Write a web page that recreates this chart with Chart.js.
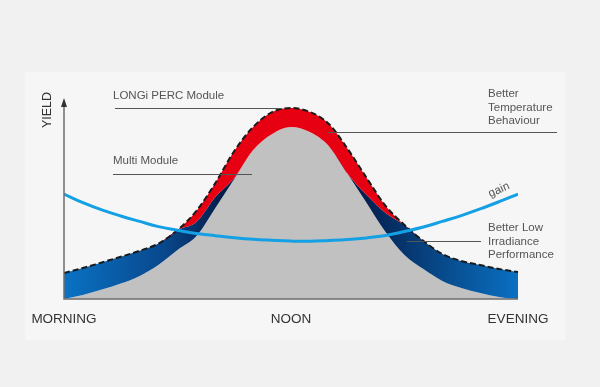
<!DOCTYPE html>
<html>
<head>
<meta charset="utf-8">
<script src="https://cdn.jsdelivr.net/npm/chart.js@4"></script>
<style>
  body { margin: 0; background: #f1f1f1; }
  #panel { position: absolute; left: 25px; top: 72px; width: 540px; height: 268px; background: #f6f6f6; }
  #yieldChart { position: absolute; left: 0; top: 0; }
</style>
</head>
<body>
<div id="panel"></div>
<canvas id="yieldChart" width="600" height="387"></canvas>
<script>
// time of day (hours), morning -> evening
const hours = [6, 6.5, 7, 7.5, 8, 8.5, 9, 9.5, 10, 10.5, 11, 11.5, 12, 12.5, 13, 13.5, 14, 14.5, 15, 15.5, 16, 16.5, 17, 17.5, 18];
// multi module yield (grey area)
const multiYield = [0, 2.0, 4.7, 7.7, 11.5, 17.1, 24.4, 31.3, 45.3, 59.7, 74.1, 82.1, 85.6, 83.1, 76.1, 62.2, 47.8, 33.3, 21.9, 14.9, 9.0, 5.5, 3.0, 1.0, 0];
// LONGi PERC module yield (dashed line)
const longiYield = [12.9, 15.4, 18.2, 21.0, 24.0, 27.6, 34.3, 43.8, 57.7, 73.6, 85.6, 93.0, 95.0, 93.0, 87.1, 74.6, 60.2, 46.3, 36.8, 28.9, 22.4, 18.9, 16.9, 14.9, 13.4];
// border between low irradiance gain (blue) and temperature gain (red)
const splitYield = [12.9, 15.4, 18.2, 21.0, 24.0, 27.6, 34.3, 38.3, 50.7, 60.2, 74.1, 82.1, 85.6, 83.1, 76.1, 62.2, 51.7, 42.8, 36.8, 28.9, 22.4, 18.9, 16.9, 14.9, 13.4];
// gain curve
const gainCurve = [52.2, 47.9, 44.3, 41.3, 38.6, 36.0, 34.2, 32.6, 31.5, 30.5, 29.7, 29.2, 28.8, 28.7, 29.1, 29.6, 30.4, 31.6, 33.6, 35.8, 38.6, 41.5, 44.8, 48.4, 52.2];
// axis labels
const timeTicks = [6, 12, 18];
const timeLabels = ['MORNING', 'NOON', 'EVENING'];

const pts = (ys) => hours.map((h, i) => ({ x: h, y: ys[i] }));

const FONT = "'Liberation Sans', Arial, sans-serif";

// blue band gradient, light at the edges, navy towards noon
const blueFill = (context) => {
    const area = context.chart.chartArea;
    if (!area) return '#0a5aa8';
    const g = context.chart.ctx.createLinearGradient(area.left, 0, area.right, 0);
    g.addColorStop(0, '#0a72c4');
    g.addColorStop(0.22, '#08488c');
    g.addColorStop(0.34, '#041f4e');
    g.addColorStop(0.66, '#041f4e');
    g.addColorStop(0.8, '#07427f');
    g.addColorStop(1, '#0a70c2');
    return g;
};

// axes, arrow and text labels
const decorations = {
    id: 'decorations',
    afterDraw(chart) {
        const ctx = chart.ctx;
        const a = chart.chartArea;
        const xs = chart.scales.x;
        ctx.save();

        // axes
        ctx.strokeStyle = '#6d6d6d';
        ctx.lineWidth = 1.5;
        ctx.beginPath();
        ctx.moveTo(a.left, a.top + 6);
        ctx.lineTo(a.left, a.bottom);
        ctx.lineTo(a.right, a.bottom);
        ctx.stroke();
        ctx.fillStyle = '#333';
        ctx.beginPath();
        ctx.moveTo(a.left, a.top);
        ctx.lineTo(a.left - 3, a.top + 9);
        ctx.lineTo(a.left + 3, a.top + 9);
        ctx.closePath();
        ctx.fill();

        // YIELD
        ctx.save();
        ctx.translate(48, 110);
        ctx.rotate(-Math.PI / 2);
        ctx.font = '12.5px ' + FONT;
        ctx.fillStyle = '#333';
        ctx.textAlign = 'center';
        ctx.textBaseline = 'middle';
        ctx.fillText('YIELD', 0, 0);
        ctx.restore();

        // time labels
        ctx.font = '13.5px ' + FONT;
        ctx.fillStyle = '#333';
        ctx.textAlign = 'center';
        ctx.textBaseline = 'middle';
        timeTicks.forEach((t, i) => {
            ctx.fillText(timeLabels[i], xs.getPixelForValue(t), 319);
        });

        // annotation texts
        ctx.font = '11.5px ' + FONT;
        ctx.fillStyle = '#555';
        ctx.textAlign = 'left';
        ctx.fillText('LONGi PERC Module', 113, 96);
        ctx.fillText('Multi Module', 113, 161);
        ctx.fillText('Better', 488, 94);
        ctx.fillText('Temperature', 488, 108);
        ctx.fillText('Behaviour', 488, 121);
        ctx.fillText('Better Low', 488, 228);
        ctx.fillText('Irradiance', 488, 242);
        ctx.fillText('Performance', 488, 255);

        ctx.save();
        ctx.translate(499, 190);
        ctx.rotate(-0.42);
        ctx.textAlign = 'center';
        ctx.fillText('gain', 0, 0);
        ctx.restore();

        // leader lines
        ctx.strokeStyle = '#555';
        ctx.lineWidth = 1;
        ctx.beginPath();
        ctx.moveTo(115, 108.5); ctx.lineTo(282, 108.5);
        ctx.moveTo(113, 174.5); ctx.lineTo(252, 174.5);
        ctx.moveTo(328, 132.5); ctx.lineTo(557, 132.5);
        ctx.moveTo(407, 241.5); ctx.lineTo(481, 241.5);
        ctx.stroke();

        ctx.restore();
    }
};

const ctx = document.getElementById('yieldChart').getContext('2d');
const yieldChart = new Chart(ctx, {
    type: 'line',
    data: {
        datasets: [
            {
                label: 'gain',
                data: pts(gainCurve),
                borderColor: '#14a0e4',
                borderWidth: 3,
                cubicInterpolationMode: 'default',
                tension: 0.4,
                fill: false
            },
            {
                label: 'LONGi PERC Module',
                data: pts(longiYield),
                borderColor: '#1a1a1a',
                borderWidth: 2,
                borderDash: [6, 3],
                backgroundColor: '#e60012',
                fill: 2
            },
            {
                label: 'split',
                data: pts(splitYield),
                borderWidth: 0,
                borderColor: 'rgba(0,0,0,0)',
                backgroundColor: blueFill,
                fill: 3
            },
            {
                label: 'Multi Module',
                data: pts(multiYield),
                borderWidth: 0,
                borderColor: 'rgba(0,0,0,0)',
                backgroundColor: '#c1c1c1',
                fill: 'origin'
            }
        ]
    },
    options: {
        responsive: false,
        animation: false,
        layout: { padding: { left: 64, top: 98, right: 82, bottom: 88 } },
        elements: {
            point: { radius: 0 },
            line: { cubicInterpolationMode: 'monotone' }
        },
        scales: {
            x: { type: 'linear', min: 6, max: 18, display: false },
            y: { min: 0, max: 100, display: false }
        },
        plugins: {
            legend: { display: false },
            tooltip: { enabled: false }
        }
    },
    plugins: [decorations]
});
</script>
</body>
</html>
